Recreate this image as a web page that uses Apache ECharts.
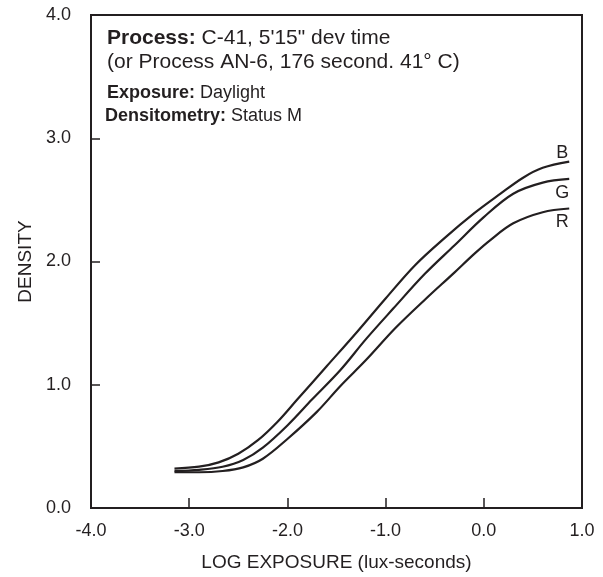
<!DOCTYPE html>
<html>
<head>
<meta charset="utf-8">
<script src="https://cdn.jsdelivr.net/npm/echarts@6/dist/echarts.min.js"></script>
<style>
  html, body { margin: 0; padding: 0; background: #fff; }
  #chart { width: 603px; height: 577px; }
</style>
</head>
<body>
<div id="chart"></div>
<script>
// curve points: [log exposure, density]
const blueCurve = [
  [-3.15, 0.32], [-2.9, 0.335], [-2.7, 0.37], [-2.5, 0.44], [-2.3, 0.55],
  [-2.1, 0.70], [-1.9, 0.88], [-1.6, 1.15], [-1.3, 1.42], [-1.0, 1.70],
  [-0.7, 1.97], [-0.4, 2.19], [-0.1, 2.39], [0.17, 2.55], [0.4, 2.68],
  [0.6, 2.76], [0.87, 2.81]
]
const greenCurve = [
  [-3.15, 0.30], [-2.9, 0.31], [-2.66, 0.335], [-2.45, 0.39], [-2.25, 0.49],
  [-2.0, 0.67], [-1.75, 0.88], [-1.46, 1.12], [-1.2, 1.37], [-0.92, 1.62],
  [-0.6, 1.90], [-0.3, 2.13], [0.0, 2.36], [0.3, 2.55], [0.6, 2.64],
  [0.87, 2.67]
]
const redCurve = [
  [-3.15, 0.29], [-2.9, 0.29], [-2.66, 0.30], [-2.45, 0.33], [-2.25, 0.40],
  [-2.0, 0.56], [-1.7, 0.78], [-1.46, 0.99], [-1.2, 1.20], [-0.9, 1.46],
  [-0.6, 1.69], [-0.3, 1.91], [-0.1, 2.06], [0.06, 2.17], [0.3, 2.31],
  [0.6, 2.40], [0.87, 2.43]
]
const curveNames = ['B', 'G', 'R']
const xTicks = { min: -4, max: 1, interval: 1 }
const yTicks = { min: 0, max: 4, interval: 1 }

const ink = '#231f20'
const font = 'Liberation Sans, Arial, Helvetica, sans-serif'

const chart = echarts.init(document.getElementById('chart'), null, { renderer: 'canvas' })

// label sits above the end for B, below for G and R
function endMark(curve, name, dy) {
  const last = curve[curve.length - 1]
  return {
    symbol: 'circle',
    symbolSize: 1,
    itemStyle: { color: 'rgba(0,0,0,0)' },
    label: {
      show: true,
      position: 'inside',
      offset: [-7, dy],
      formatter: name,
      color: ink,
      fontSize: 18,
      fontFamily: font
    },
    data: [{ coord: last }]
  }
}

function curveSeries(curve, name, dy) {
  return {
    name: name,
    type: 'line',
    data: curve,
    smooth: 0.35,
    symbol: 'none',
    lineStyle: { color: ink, width: 2.2 },
    markPoint: endMark(curve, name, dy),
    animation: false
  }
}

// one title block per line of the note, the spacing is uneven in the original
function noteLine(text, top, left, size) {
  return {
    left: left,
    top: top,
    text: text,
    textStyle: {
      color: ink,
      fontSize: size,
      fontWeight: 'normal',
      fontFamily: font,
      lineHeight: size,
      rich: {
        b: { fontSize: size, fontWeight: 'bold', color: ink, fontFamily: font, lineHeight: size }
      }
    }
  }
}

const option = {
  backgroundColor: '#fff',
  animation: false,
  title: [
    noteLine('{b|Process:} C-41, 5\'15" dev time', 23, 102, 21),
    noteLine('(or Process AN-6, 176 second. 41\u00b0 C)', 47, 102, 21),
    noteLine('{b|Exposure:} Daylight', 79, 102, 18),
    noteLine('{b|Densitometry:} Status M', 102, 100, 18)
  ],
  grid: {
    left: 91,
    right: 21,
    top: 15,
    bottom: 69,
    show: true,
    borderColor: ink,
    borderWidth: 2,
    containLabel: false
  },
  xAxis: {
    type: 'value',
    min: xTicks.min,
    max: xTicks.max,
    interval: xTicks.interval,
    name: 'LOG EXPOSURE (lux-seconds)',
    nameLocation: 'middle',
    nameGap: 45,
    nameTextStyle: { color: ink, fontSize: 19, fontFamily: font },
    axisLine: { show: true, onZero: false, lineStyle: { color: ink, width: 2 } },
    axisTick: { show: true, inside: true, length: 10, lineStyle: { color: ink, width: 1.5 } },
    axisLabel: {
      color: ink, fontSize: 18, fontFamily: font, margin: 14,
      formatter: v => v.toFixed(1)
    },
    splitLine: { show: false }
  },
  yAxis: {
    type: 'value',
    min: yTicks.min,
    max: yTicks.max,
    interval: yTicks.interval,
    name: 'DENSITY',
    nameLocation: 'middle',
    nameGap: 56,
    nameTextStyle: { color: ink, fontSize: 19, fontFamily: font },
    axisLine: { show: true, onZero: false, lineStyle: { color: ink, width: 2 } },
    axisTick: { show: true, inside: true, length: 9, lineStyle: { color: ink, width: 1.5 } },
    axisLabel: {
      color: ink, fontSize: 18, fontFamily: font, margin: 20,
      formatter: v => v.toFixed(1)
    },
    splitLine: { show: false }
  },
  series: [
    curveSeries(blueCurve, curveNames[0], -9),
    curveSeries(greenCurve, curveNames[1], 14),
    curveSeries(redCurve, curveNames[2], 14)
  ]
}

chart.setOption(option)
</script>
</body>
</html>
